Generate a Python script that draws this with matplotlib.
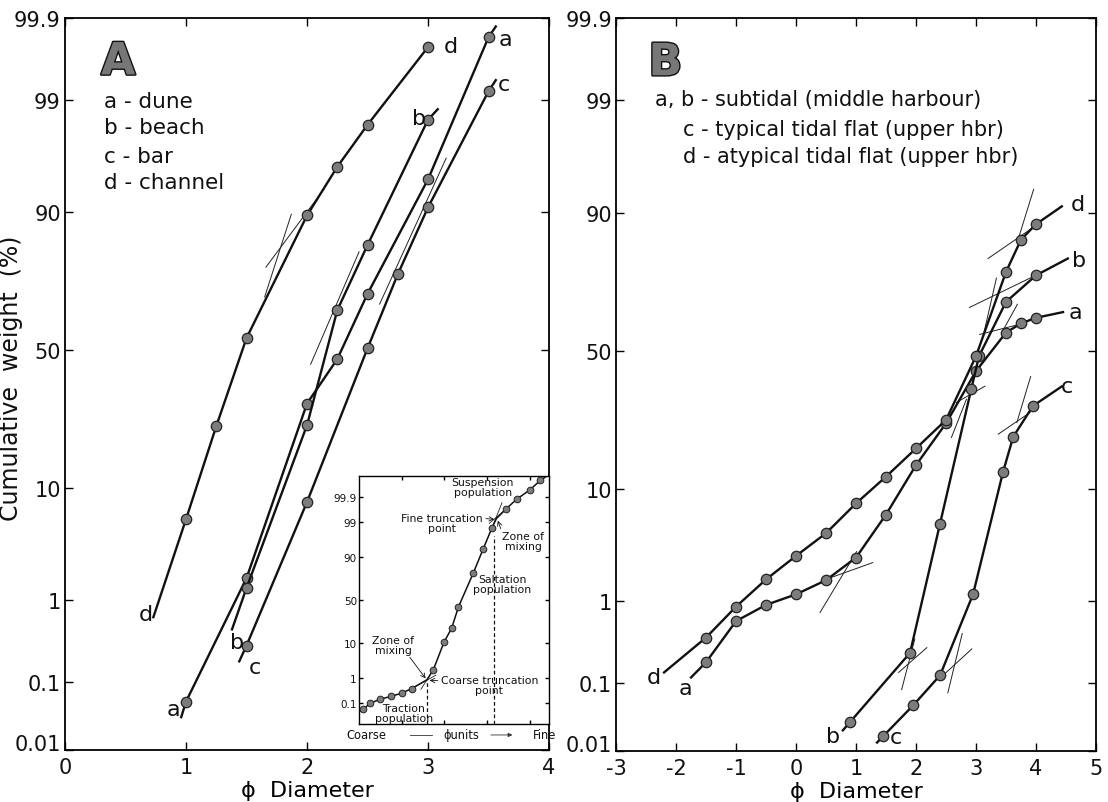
import math
import numpy as np
import matplotlib
matplotlib.use("Agg")
import matplotlib.pyplot as plt
import matplotlib.patheffects as pe
from matplotlib.ticker import FixedLocator, NullLocator

plt.rcParams['font.family'] = ['DejaVu Sans']
plt.rcParams['axes.unicode_minus'] = False

# ---- panel A: cumulative curves (phi, cumulative weight %) ----
# first / last entries are line ends without a marker
dune_x = [0.96, 1.0, 1.5, 2.0, 2.25, 2.5, 3.0, 3.5, 3.56]
dune_y = [0.032, 0.054, 1.7, 31, 46.7, 70, 94.4, 99.82, 99.87]
beach_x = [1.38, 1.5, 2.0, 2.25, 2.5, 3.0, 3.08]
beach_y = [0.47, 1.35, 24.3, 64.5, 83.6, 98.4, 98.75]
bar_x = [1.44, 1.5, 2.0, 2.5, 2.75, 3.0, 3.5, 3.56]
bar_y = [0.19, 0.3, 7.9, 50.7, 76, 90.8, 99.2, 99.4]
channel_x = [0.73, 1.0, 1.25, 1.5, 2.0, 2.25, 2.5, 3.0]
channel_y = [0.65, 5.8, 24, 54.5, 89.5, 95.6, 98.2, 99.76]

# thin construction lines (segment ends)
tangents_a = [
    ((1.66, 78.0), (2.14, 93.3)),
    ((1.87, 89.7), (1.65, 69.0)),
    ((2.43, 82.0), (2.03, 44.8)),
    ((3.15, 96.3), (2.60, 66.6)),
]

# ---- panel B ----
sub_a_x = [-1.75, -1.5, -1.0, -0.5, 0.0, 0.5, 1.0, 1.5, 2.0, 2.5, 3.0, 3.5, 3.75, 4.0, 4.45]
sub_a_y = [0.12, 0.19, 0.6, 0.91, 1.18, 1.65, 2.73, 6.4, 14.4, 25, 42.5, 56.7, 60, 62, 64]
sub_b_x = [0.78, 0.9, 1.9, 2.4, 2.92, 3.05, 3.5, 4.0, 4.53]
sub_b_y = [0.021, 0.028, 0.25, 5.4, 36, 48, 67.5, 75.8, 80.4]
flat_c_x = [1.35, 1.45, 1.95, 2.4, 2.95, 3.45, 3.62, 3.95, 4.43]
flat_c_y = [0.0136, 0.017, 0.049, 0.128, 1.18, 13, 21.2, 30.4, 37]
flat_d_x = [-2.2, -1.5, -1.0, -0.5, 0.0, 0.5, 1.0, 1.5, 2.0, 2.5, 3.0, 3.5, 3.75, 4.0, 4.43]
flat_d_y = [0.14, 0.385, 0.87, 1.68, 2.83, 4.5, 7.8, 12.1, 18.2, 26, 48, 76.8, 84.9, 88, 91]

tangents_b = [
    ((0.40, 0.75), (1.01, 3.1)),
    ((0.52, 1.7), (1.28, 2.45)),
    ((1.76, 0.082), (1.98, 0.37)),
    ((1.71, 0.14), (2.18, 0.29)),
    ((2.53, 0.074), (2.77, 0.43)),
    ((2.44, 0.126), (2.93, 0.28)),
    ((3.96, 93.3), (3.72, 85.7)),
    ((3.20, 80.4), (4.03, 88.0)),
    ((2.89, 65.6), (3.96, 75.5)),
    ((3.34, 75.0), (3.12, 55.5)),
    ((3.69, 66.7), (3.43, 56.7)),
    ((3.06, 56.0), (3.73, 59.7)),
    ((2.67, 31.5), (3.15, 37.1)),
    ((2.59, 21.0), (2.84, 32.6)),
    ((3.37, 21.9), (3.90, 28.3)),
    ((3.68, 25.2), (3.91, 40.5)),
]

# ---- inset: idealised log-probability curve ----
inset_x = [0.0, 0.1, 0.26, 0.49, 0.74, 1.0, 1.23, 1.59, 1.74, 1.99, 2.17, 2.33,
           2.68, 2.91, 3.11, 3.22, 3.44, 3.69, 4.0, 4.25, 4.45]
inset_y = [0.04, 0.052, 0.097, 0.145, 0.19, 0.26, 0.39, 0.83, 1.8, 10.2, 19.8, 41.7,
           79.2, 93.7, 98.4, 99.26, 99.67, 99.87, 99.95, 99.983, 99.991]
inset_marks = [1, 2, 3, 4, 5, 6, 8, 9, 10, 11, 12, 13, 14, 16, 17, 18, 19]
inset_tangents = [
    ((1.23, 0.39), (1.80, 1.2)),
    ((1.45, 0.37), (1.74, 1.8)),
    ((3.11, 98.4), (3.35, 99.82)),
    ((3.05, 98.9), (3.44, 99.67)),
]

main_ticks = [0.01, 0.1, 1, 10, 50, 90, 99, 99.9]
main_labels = ['0.01', '0.1', '1', '10', '50', '90', '99', '99.9']
inset_ticks = [0.1, 1, 10, 50, 90, 99, 99.9]
inset_labels = ['0.1', '1', '10', '50', '90', '99', '99.9']


# normal probability axis (Acklam inverse normal)
def _ppf(q):
    q = np.clip(np.atleast_1d(np.asarray(q, dtype=float)), 1e-12, 1 - 1e-12)
    a = [-3.969683028665376e+01, 2.209460984245205e+02, -2.759285104469687e+02,
         1.383577518672690e+02, -3.066479806614716e+01, 2.506628277459239e+00]
    b = [-5.447609879822406e+01, 1.615858368580409e+02, -1.556989798598866e+02,
         6.680131188771972e+01, -1.328068155288572e+01]
    c = [-7.784894002430293e-03, -3.223964580411365e-01, -2.400758277161838e+00,
         -2.549732539343734e+00, 4.374664141464968e+00, 2.938163982698783e+00]
    d = [7.784695709041462e-03, 3.224671290700398e-01, 2.445134137142996e+00,
         3.754408661907416e+00]
    z = np.empty_like(q)
    lo = q < 0.02425
    hi = q > 1 - 0.02425
    mid = ~(lo | hi)
    for mask, sign, qq in ((lo, 1, q[lo]), (hi, -1, 1 - q[hi])):
        r = np.sqrt(-2 * np.log(qq))
        z[mask] = sign * (((((c[0]*r + c[1])*r + c[2])*r + c[3])*r + c[4])*r + c[5]) / \
            ((((d[0]*r + d[1])*r + d[2])*r + d[3])*r + 1)
    s = q[mid] - 0.5
    r = s * s
    z[mid] = (((((a[0]*r + a[1])*r + a[2])*r + a[3])*r + a[4])*r + a[5]) * s / \
        (((((b[0]*r + b[1])*r + b[2])*r + b[3])*r + b[4])*r + 1)
    return z


_erfc = np.vectorize(math.erfc)


def prob_fwd(p):
    p = np.asarray(p, dtype=float)
    return _ppf(p / 100.0).reshape(p.shape)


def prob_inv(z):
    z = np.asarray(z, dtype=float)
    return 100.0 * 0.5 * _erfc(-z / math.sqrt(2))


def setup_axis(ax, xlim, ylim, ticks, labels, size):
    ax.set_yscale('function', functions=(prob_fwd, prob_inv))
    ax.set_xlim(*xlim)
    ax.set_ylim(*ylim)
    ax.yaxis.set_major_locator(FixedLocator(ticks))
    ax.yaxis.set_minor_locator(NullLocator())
    ax.set_yticklabels(labels)
    ax.tick_params(direction='in', top=True, right=True, length=6, width=1.0,
                   labelsize=size, pad=3, color='black', labelcolor='#111')
    for s in ax.spines.values():
        s.set_linewidth(1.3)


def curve(ax, xs, ys, first_mark=1, last_mark=None, ms=7.5, lw=1.7):
    n = len(xs)
    if last_mark is None:
        last_mark = n - 2
    ax.plot(xs, ys, '-', color='#111', lw=lw, marker='o', ms=ms,
            markevery=list(range(first_mark, last_mark + 1)),
            mfc='#7c7c7c', mec='#222', mew=0.9, zorder=3)


def thin(ax, segs, lw=0.7):
    for (x0, y0), (x1, y1) in segs:
        ax.plot([x0, x1], [y0, y1], color='#222', lw=lw, zorder=2)


fig = plt.figure(figsize=(11.08, 8.03), dpi=100)
ax_a = fig.add_axes([0.0587, 0.0648, 0.4368, 0.9115])
ax_b = fig.add_axes([0.5560, 0.0635, 0.4332, 0.9128])

# ---------------- panel A ----------------
setup_axis(ax_a, (0, 4), (0.01, 99.9), main_ticks, main_labels, 15)
ax_a.set_xticks([0, 1, 2, 3, 4])
ax_a.tick_params(axis='x', pad=5)
curve(ax_a, dune_x, dune_y)
curve(ax_a, beach_x, beach_y)
curve(ax_a, bar_x, bar_y)
curve(ax_a, channel_x, channel_y, last_mark=len(channel_x) - 1)
thin(ax_a, tangents_a)

lbl = dict(fontsize=16, color='#111', va='center', ha='center')
ax_a.text(3.64, 99.81, 'a', **lbl)
ax_a.text(3.19, 99.77, 'd', **lbl)
ax_a.text(2.93, 98.45, 'b', **lbl)
ax_a.text(3.63, 99.33, 'c', **lbl)
ax_a.text(0.67, 0.7, 'd', **lbl)
ax_a.text(1.42, 0.33, 'b', **lbl)
ax_a.text(1.57, 0.16, 'c', **lbl)
ax_a.text(0.9, 0.042, 'a', **lbl)

ax_a.text(0.11, 0.94, 'A', transform=ax_a.transAxes, fontsize=32, fontweight='bold',
          color='#777', ha='center', va='center',
          path_effects=[pe.withStroke(linewidth=2, foreground='#111')])
for i, t in enumerate(['a - dune', 'b - beach', 'c - bar', 'd - channel']):
    ax_a.text(0.081, [0.887, 0.851, 0.812, 0.776][i], t, transform=ax_a.transAxes,
              fontsize=15.5, ha='left', va='center', color='#111')

ax_a.set_xlabel('\u03d5  Diameter', fontsize=16, labelpad=2)
fig.text(0.010, 0.529, 'Cumulative  weight  (%)', rotation=90, fontsize=17,
         ha='center', va='center', color='#111')

# ---------------- inset ----------------
ax_in = fig.add_axes([0.3240, 0.0971, 0.1715, 0.3093])
setup_axis(ax_in, (0, 4.45), (0.01, 99.99), inset_ticks, inset_labels, 7.5)
ax_in.set_xticks([1, 2, 3, 4])
ax_in.set_xticklabels([])
ax_in.tick_params(length=3, pad=1.5)
for s in ax_in.spines.values():
    s.set_linewidth(1.0)
ax_in.plot(inset_x, inset_y, '-', color='#111', lw=1.1, marker='o', ms=4.8,
           markevery=inset_marks, mfc='#7c7c7c', mec='#222', mew=0.7, zorder=3)
thin(ax_in, inset_tangents, lw=0.6)
ax_in.plot([1.59, 1.59], [0.01, 0.83], '--', color='#111', lw=0.9, dashes=(3, 2))
ax_in.plot([3.17, 3.17], [0.01, 97.3], '--', color='#111', lw=0.9, dashes=(3, 2))

small = dict(fontsize=7.8, color='#111', ha='center', va='center', linespacing=1.0)
ax_in.text(2.9, 99.965, 'Suspension\npopulation', **small)
ax_in.annotate('Fine truncation\npoint', xy=(3.2, 99.2), xytext=(1.95, 98.9), **small,
               arrowprops=dict(arrowstyle='->', lw=0.6, color='#111',
                               shrinkA=0, shrinkB=1, relpos=(1.0, 0.75)))
ax_in.annotate('Zone of\nmixing', xy=(3.24, 99.2), xytext=(3.85, 96.0), **small,
               arrowprops=dict(arrowstyle='->', lw=0.6, color='#111',
                               shrinkA=0, shrinkB=1, relpos=(0.0, 0.9)))
ax_in.text(3.35, 68.0, 'Saltation\npopulation', **small)
ax_in.annotate('Zone of\nmixing', xy=(1.58, 0.85), xytext=(0.8, 9.0), **small,
               arrowprops=dict(arrowstyle='->', lw=0.6, color='#111',
                               shrinkA=0, shrinkB=1, relpos=(0.85, 0.0)))
ax_in.annotate('Coarse truncation\npoint', xy=(1.62, 0.8), xytext=(3.05, 0.55), **small,
               arrowprops=dict(arrowstyle='->', lw=0.6, color='#111',
                               shrinkA=0, shrinkB=1, relpos=(0.0, 0.7)))
ax_in.text(1.05, 0.036, 'Traction\npopulation', **small)

foot = dict(fontsize=8.3, color='#111', va='center', transform=ax_a.transAxes)
ax_a.text(0.581, 0.0205, 'Coarse', ha='left', **foot)
ax_a.text(0.818, 0.0205, '\u03d5units', ha='center', **foot)
ax_a.text(0.967, 0.0205, 'Fine', ha='left', **foot)
ax_a.plot([0.713, 0.758], [0.0205, 0.0205], color='#333', lw=0.6,
          transform=ax_a.transAxes, clip_on=False)
ax_a.annotate('', xy=(0.93, 0.0205), xytext=(0.874, 0.0205), xycoords='axes fraction',
              arrowprops=dict(arrowstyle='-|>', lw=0.6, color='#333',
                              mutation_scale=6))

# ---------------- panel B ----------------
setup_axis(ax_b, (-3, 5), (0.01, 99.9), main_ticks, main_labels, 15)
ax_b.set_xticks(range(-3, 6))
ax_b.tick_params(axis='x', pad=5)
curve(ax_b, sub_a_x, sub_a_y)
curve(ax_b, sub_b_x, sub_b_y)
curve(ax_b, flat_c_x, flat_c_y)
curve(ax_b, flat_d_x, flat_d_y)
thin(ax_b, tangents_b)

ax_b.text(4.69, 91.3, 'd', **lbl)
ax_b.text(4.71, 80.0, 'b', **lbl)
ax_b.text(4.66, 64.0, 'a', **lbl)
ax_b.text(4.52, 37.0, 'c', **lbl)
ax_b.text(-2.37, 0.12, 'd', **lbl)
ax_b.text(-1.84, 0.085, 'a', **lbl)
ax_b.text(0.62, 0.017, 'b', **lbl)
ax_b.text(1.66, 0.0165, 'c', **lbl)

ax_b.text(0.103, 0.939, 'B', transform=ax_b.transAxes, fontsize=32, fontweight='bold',
          color='#777', ha='center', va='center',
          path_effects=[pe.withStroke(linewidth=2, foreground='#111')])
ax_b.text(0.082, 0.8895, 'a, b - subtidal (middle harbour)', transform=ax_b.transAxes,
          fontsize=15, ha='left', va='center', color='#111')
ax_b.text(0.139, 0.849, 'c - typical tidal flat (upper hbr)', transform=ax_b.transAxes,
          fontsize=15, ha='left', va='center', color='#111')
ax_b.text(0.139, 0.812, 'd - atypical tidal flat (upper hbr)', transform=ax_b.transAxes,
          fontsize=15, ha='left', va='center', color='#111')
ax_b.set_xlabel('\u03d5  Diameter', fontsize=16, labelpad=2)

# lift the bottom probability label clear of the x tick labels
for ax in (ax_a, ax_b):
    ax.get_yticklabels()[0].set_verticalalignment('baseline')

fig.savefig('out.png', dpi=100)
